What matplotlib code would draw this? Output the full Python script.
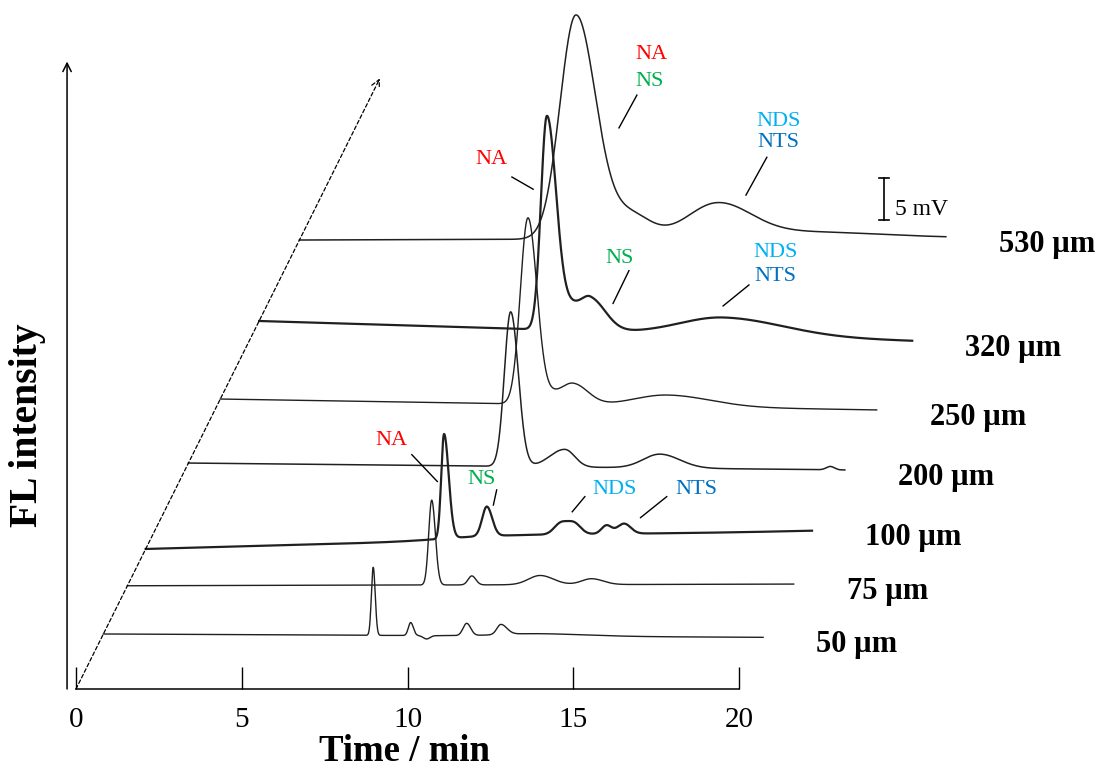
import numpy as np
import matplotlib.pyplot as plt

plt.rcParams['font.family'] = ['Liberation Serif', 'DejaVu Serif']

# traces, bottom to top
sizes = ['50 µm', '75 µm', '100 µm', '200 µm', '250 µm', '320 µm', '530 µm']
base_start = [6.55, 12.29, 16.67, 26.90, 34.52, 43.81, 53.45]   # mV at t = 0
base_drift = [-0.40, 0.20, 2.14, -0.83, -1.31, -2.40, 0.24]     # mV change over the run
run_end = [19.9, 20.1, 20.1, 19.8, 19.8, 19.7, 19.5]            # min
line_w = [1.0, 1.0, 1.6, 1.1, 1.0, 1.6, 1.1]

# peaks: apex time (min), height (mV), left / right width (min)
peaks_50 = [(8.14, 8.1, 0.055, 0.06), (9.27, 1.55, 0.07, 0.08), (9.75, -0.4, 0.1, 0.1),
            (10.96, 1.45, 0.11, 0.12), (11.99, 1.2, 0.12, 0.18), (13.0, 0.3, 1.0, 1.5)]
peaks_75 = [(9.18, 10.1, 0.09, 0.11), (10.39, 1.07, 0.11, 0.12),
            (12.45, 1.1, 0.35, 0.4), (14.0, 0.7, 0.3, 0.35)]
peaks_100 = [(9.0, 12.45, 0.085, 0.14), (10.29, 3.5, 0.14, 0.16), (12.52, 1.3, 0.2, 0.2),
             (12.92, 1.3, 0.2, 0.2), (13.9, 1.0, 0.15, 0.15), (14.43, 1.2, 0.2, 0.2),
             (10.5, 0.45, 1.5, 4.0)]
peaks_200 = [(9.72, 18.4, 0.19, 0.23), (11.35, 2.1, 0.45, 0.3), (14.22, 1.65, 0.5, 0.6),
             (19.36, 0.4, 0.12, 0.12)]
peaks_250 = [(9.28, 22.1, 0.23, 0.27), (9.95, 1.0, 0.3, 0.3), (10.64, 2.5, 0.35, 0.45),
             (13.48, 1.36, 1.0, 1.3)]
peaks_320 = [(8.68, 25.3, 0.18, 0.28), (9.38, 2.5, 0.3, 0.3), (10.0, 3.8, 0.3, 0.45),
             (14.0, 2.1, 1.3, 1.8)]
peaks_530 = [(8.34, 26.6, 0.48, 0.6), (9.97, 2.8, 0.6, 0.6), (12.6, 3.8, 0.9, 1.0),
             (15.0, 0.8, 2.5, 2.5)]
peaks = [peaks_50, peaks_75, peaks_100, peaks_200, peaks_250, peaks_320, peaks_530]

skew = 0.1261   # min of shift per mV of offset (oblique 3D look)

# peak labels: text, colour, text pos, leader line start/end
c_na, c_ns, c_nds, c_nts = '#ff0000', '#00b050', '#00b0f0', '#0070c0'
tags = [
    ('NA', c_na, (17.35, 75.5), None),
    ('NS', c_ns, (17.29, 72.3), ((16.92, 70.7), (16.38, 66.8))),
    ('NDS', c_nds, (21.18, 67.6), None),
    ('NTS', c_nts, (21.18, 65.1), ((20.84, 63.3), (20.21, 58.8))),
    ('NA', c_na, (12.52, 63.0), ((13.15, 60.95), (13.79, 59.5))),
    ('NS', c_ns, (16.41, 51.2), ((16.68, 49.8), (16.2, 45.9))),
    ('NDS', c_nds, (21.09, 52.0), None),
    ('NTS', c_nts, (21.09, 49.05), ((20.3, 48.1), (19.52, 45.6))),
    ('NA', c_na, (9.53, 29.6), ((10.13, 27.9), (10.9, 24.7))),
    ('NS', c_ns, (12.24, 24.9), ((12.69, 23.7), (12.59, 21.9))),
    ('NDS', c_nds, (16.26, 23.8), ((15.35, 22.9), (14.97, 21.1))),
    ('NTS', c_nts, (18.72, 23.8), ((17.82, 22.9), (17.03, 20.4))),
]


def bigauss(t, t0, h, sl, sr):
    s = np.where(t < t0, sl, sr)
    return h * np.exp(-0.5 * ((t - t0) / s) ** 2)


fig = plt.figure(figsize=(11.07, 7.69), dpi=100)
ax = fig.add_axes([0, 0, 1, 1])
ax.set_xlim(-76 / 33.15, (1107 - 76) / 33.15)
ax.set_ylim((689 - 769) / 8.4, 689 / 8.4)

for name, b0, drift, tend, pk, lw in zip(sizes, base_start, base_drift, run_end, peaks, line_w):
    t = np.linspace(0, tend, 3000)
    y = b0 + drift * t / 20.0
    for p in pk:
        y = y + bigauss(t, *p)
    x = t + skew * b0
    ax.plot(x, y, color='#202020', lw=lw, solid_joinstyle='round')
    ax.text(x[-1] + 1.6, y[-1] - 0.45, name, fontsize=22, fontweight='bold',
            ha='left', va='center_baseline')

for txt, col, pos, lead in tags:
    ax.text(pos[0], pos[1], txt, color=col, fontsize=16, ha='center', va='center')
    if lead is not None:
        ax.plot([lead[0][0], lead[1][0]], [lead[0][1], lead[1][1]], color='black', lw=1.0)

# scale bar
ax.plot([24.37, 24.37], [55.83, 60.83], color='black', lw=1.2)
ax.plot([24.22, 24.52], [60.83, 60.83], color='black', lw=1.2)
ax.plot([24.22, 24.52], [55.83, 55.83], color='black', lw=1.2)
ax.text(24.7, 57.1, '5 mV', fontsize=17, ha='left', va='center')

# axes
for s in ['top', 'right', 'left']:
    ax.spines[s].set_visible(False)
ax.spines['bottom'].set_position(('data', 0))
ax.spines['bottom'].set_bounds(0, 20)
ax.spines['bottom'].set_linewidth(1.1)
ax.set_xticks([0, 5, 10, 15, 20])
ax.set_yticks([])
ax.tick_params(axis='x', direction='in', length=15.8, width=1.0, labelsize=21, pad=13)

ax.annotate('', xy=(-0.27, 74.7), xytext=(-0.27, 0),
            arrowprops=dict(arrowstyle='->,head_length=0.6,head_width=0.3', color='black', lw=1.1,
                            shrinkA=0, shrinkB=0))
ax.annotate('', xy=(skew * 72.7, 72.7), xytext=(0, 0),
            arrowprops=dict(arrowstyle='->,head_length=0.6,head_width=0.3', color='black', lw=0.9,
                            linestyle=(0, (3, 2)), shrinkA=0, shrinkB=0))

ax.text(9.92, -8.55, 'Time / min', fontsize=26.5, fontweight='bold', ha='center', va='baseline')
ax.text(-1.45, 31.4, 'FL intensity', fontsize=28.5, fontweight='bold', rotation=90,
        ha='center', va='center')

fig.savefig('out.png', dpi=100)
